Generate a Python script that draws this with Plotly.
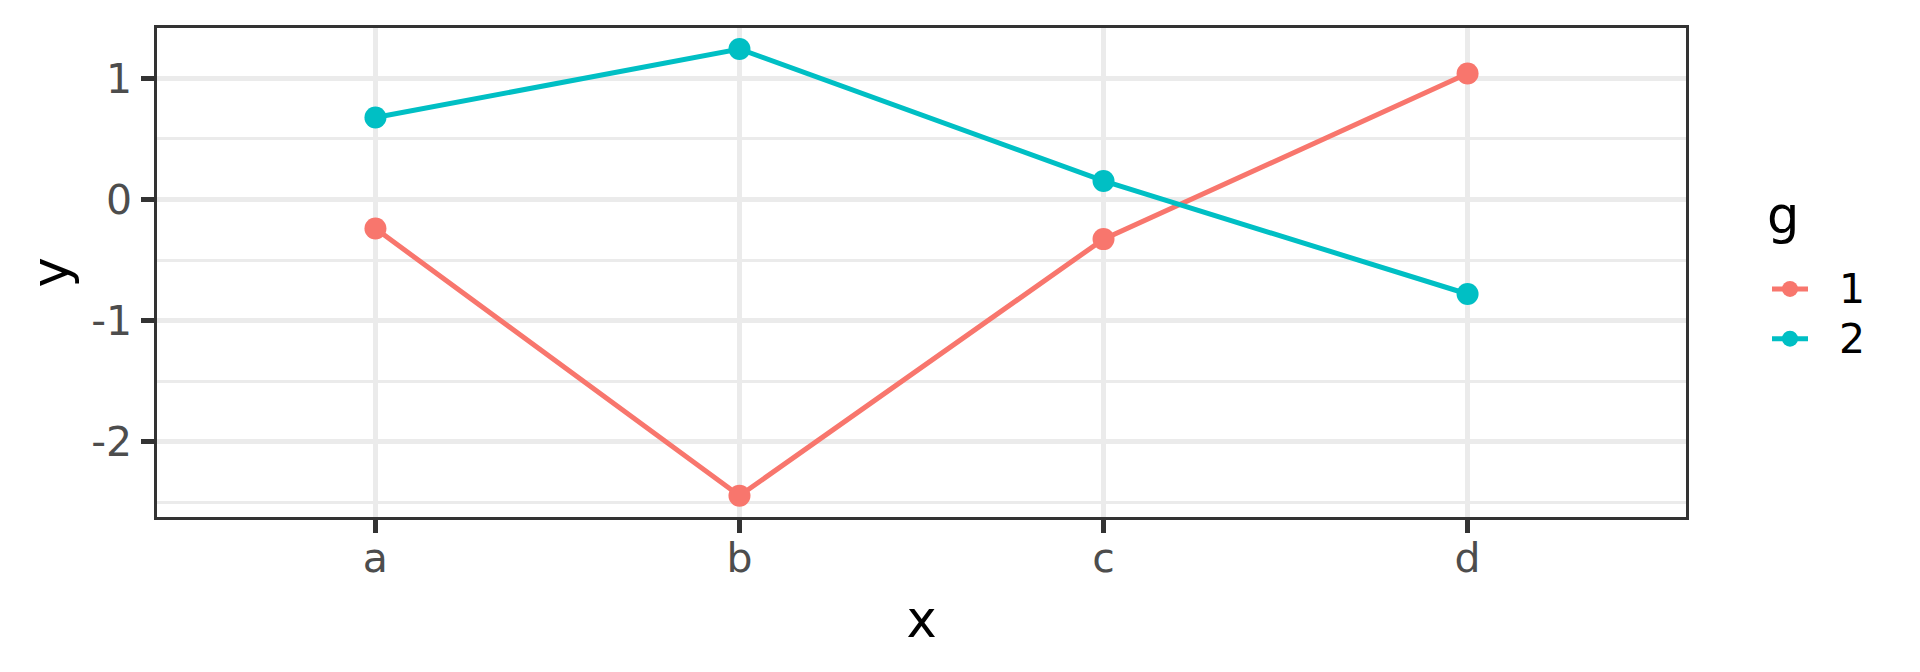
import plotly.graph_objects as go

categories = ["a", "b", "c", "d"]
groups = ["1", "2"]
values_g1 = [-0.24, -2.445, -0.327, 1.039]
values_g2 = [0.676, 1.242, 0.153, -0.78]
y_ticks = [-2, -1, 0, 1]
y_tick_labels = ["-2", "-1", "0", "1"]
legend_title = "g"

colors = {"1": "#F8766D", "2": "#00BFC4"}
series = {"1": values_g1, "2": values_g2}

FONT = "DejaVu Sans"

fig = go.Figure()
for g in groups:
    fig.add_trace(go.Scatter(
        x=categories, y=series[g],
        name='<span style="font-size:41px">\u00a0\u00a0%s</span>' % g,
        mode="lines+markers",
        line=dict(color=colors[g], width=5),
        marker=dict(color=colors[g], size=22),
    ))

# the browser page has an 8px body margin; figure coords = page coords - 8
OFF = 8
W, H = 1920 - OFF, 672 - OFF
L, R, T, B = 157 - OFF, 1686 - OFF, 28 - OFF, 517 - OFF
PW, PH = R - L, B - T


def px_x(page_x):
    return (page_x - OFF - L) / PW


def px_y(page_y):
    return 1 - (page_y - OFF - T) / PH


fig.update_layout(
    width=W, height=H,
    margin=dict(l=L, r=W - R, t=T, b=H - B, autoexpand=False),
    paper_bgcolor="white", plot_bgcolor="white",
    font=dict(family=FONT, color="black"),
    showlegend=True,
    legend=dict(
        font=dict(size=36, color="black", family=FONT),
        x=px_x(1767), xanchor="left",
        y=px_y(259), yanchor="top",
        bgcolor="rgba(0,0,0,0)", itemwidth=36,
    ),
    annotations=[dict(
        text=legend_title, xref="paper", yref="paper",
        x=px_x(1765), y=px_y(215), xanchor="left", yanchor="middle",
        showarrow=False, font=dict(size=51, color="black", family=FONT),
    )],
)

fig.update_xaxes(
    type="category", categoryorder="array", categoryarray=categories,
    range=[-0.6, 3.6],
    showgrid=True, gridcolor="#EBEBEB", gridwidth=4.5,
    showline=True, linecolor="#333333", linewidth=2.5, mirror=True,
    ticks="outside", ticklen=13, tickwidth=4.5, tickcolor="#333333",
    tickfont=dict(size=41, color="#4D4D4D", family=FONT),
    ticklabelstandoff=-10,
    title=dict(text="x", font=dict(size=51, color="black", family=FONT), standoff=21),
    zeroline=False, automargin=False,
)
fig.update_yaxes(
    range=[-2.62, 1.415],
    tickvals=y_ticks, ticktext=y_tick_labels,
    showgrid=True, gridcolor="#EBEBEB", gridwidth=4.5,
    minor=dict(dtick=0.5, tick0=0, showgrid=True, gridcolor="#EBEBEB", gridwidth=2.5, ticks=""),
    showline=True, linecolor="#333333", linewidth=2.5, mirror=True,
    ticks="outside", ticklen=13, tickwidth=4.5, tickcolor="#333333",
    tickfont=dict(size=41, color="#4D4D4D", family=FONT),
    ticklabelstandoff=1,
    title=dict(text="y", font=dict(size=51, color="black", family=FONT), standoff=7),
    zeroline=False, automargin=False,
)

fig.write_html("out.html")
